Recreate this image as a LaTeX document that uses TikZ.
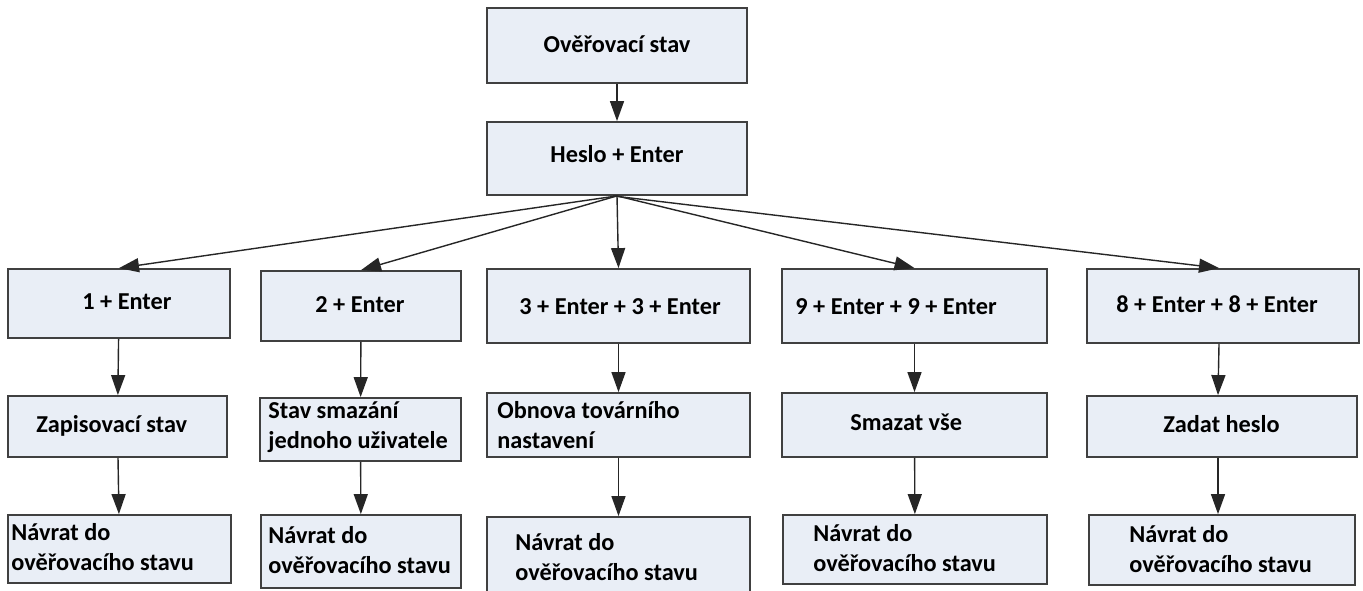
\documentclass[tikz,border=0pt]{standalone}
\usepackage{fontspec}
\setmainfont{Carlito}
\usetikzlibrary{arrows.meta}
\definecolor{boxfill}{RGB}{233,238,246}
\definecolor{boxline}{RGB}{64,64,64}
\begin{document}
\begin{tikzpicture}[x=0.5pt,y=-0.5pt,
  box/.style={draw=boxline, line width=0.9pt, fill=boxfill, rectangle, inner sep=0pt},
  txt/.style={inner sep=0pt, font=\fontsize{12.15}{15}\selectfont\bfseries, align=left},
  arr/.style={draw=black!85, line width=0.7pt, -{Triangle[length=10pt,width=7pt]}}]
\useasboundingbox (0,0) rectangle (1363,590);
% boxes
\node[box, minimum width=130pt, minimum height=37.5pt] (A) at (617,45.5) {};
\node[box, minimum width=130pt, minimum height=36.5pt] (H) at (617,158.5) {};
\node[box, minimum width=111pt, minimum height=34.5pt] (B1) at (119,303.5) {};
\node[box, minimum width=100pt, minimum height=35pt] (B2) at (361,306) {};
\node[box, minimum width=131.5pt, minimum height=37pt] (B3) at (618.5,306) {};
\node[box, minimum width=132.5pt, minimum height=37pt] (B4) at (914.5,306) {};
\node[box, minimum width=136pt, minimum height=37pt] (B5) at (1223,306) {};
\node[box, minimum width=109.5pt, minimum height=30.5pt] (C1) at (117.5,426.5) {};
\node[box, minimum width=100.5pt, minimum height=31.5pt] (C2) at (360.5,429.5) {};
\node[box, minimum width=131.5pt, minimum height=32pt] (C3) at (618.5,425) {};
\node[box, minimum width=132.5pt, minimum height=32pt] (C4) at (914.5,425) {};
\node[box, minimum width=135pt, minimum height=30.5pt] (C5) at (1222,426.5) {};
\node[box, minimum width=111.5pt, minimum height=34pt] (D1) at (119.5,549) {};
\node[box, minimum width=100pt, minimum height=36.5pt] (D2) at (361,551.5) {};
\node[box, minimum width=131.5pt, minimum height=41.5pt] (D3) at (618.5,558.5) {};
\node[box, minimum width=132pt, minimum height=34.5pt] (D4) at (915,549.5) {};
\node[box, minimum width=133pt, minimum height=35pt] (D5) at (1222,550) {};
% texts (multi-line nodes are anchored at the baseline of their last line)
\node[txt, anchor=base] (tA) at (617,52) {Ověřovací stav};
\node[txt, anchor=base] (tH) at (617,162) {Heslo + Enter};
\node[txt, anchor=base west] (tB1) at (82,309) {1 + Enter};
\node[txt, anchor=base west] (tB2) at (315,312) {2 + Enter};
\node[txt, anchor=base west] (tB3) at (519,314) {3 + Enter + 3 + Enter};
\node[txt, anchor=base west] (tB4) at (795,314) {9 + Enter + 9 + Enter};
\node[txt, anchor=base west] (tB5) at (1116,312) {8 + Enter + 8 + Enter};
\node[txt, anchor=base west] (tC1) at (36,432) {Zapisovací stav};
\node[txt, anchor=base west] (tC2) at (268,448) {Stav smazání\\jednoho uživatele};
\node[txt, anchor=base west] (tC3) at (497,448) {Obnova továrního\\nastavení};
\node[txt, anchor=base west] (tC4) at (850,430) {Smazat vše};
\node[txt, anchor=base west] (tC5) at (1163,432) {Zadat heslo};
\node[txt, anchor=base west] (tD1) at (11,570) {Návrat do\\ověřovacího stavu};
\node[txt, anchor=base west] (tD2) at (268,573) {Návrat do\\ověřovacího stavu};
\node[txt, anchor=base west] (tD3) at (515,580) {Návrat do\\ověřovacího stavu};
\node[txt, anchor=base west] (tD4) at (813,571) {Návrat do\\ověřovacího stavu};
\node[txt, anchor=base west] (tD5) at (1129,572) {Návrat do\\ověřovacího stavu};
% connectors
\draw[arr] (A) -- (H);
\draw[arr] (H.south) -- (B1.north);
\draw[arr] (H.south) -- (B2.north);
\draw[arr] (H.south) -- (B3.north);
\draw[arr] (H.south) -- (B4.north);
\draw[arr] ([xshift=-2pt]H.south) -- ([xshift=-2pt]B5.north);
\draw[arr] (B1) -- (C1);
\draw[arr] (C1) -- (D1);
\draw[arr] (B2) -- (C2);
\draw[arr] (C2) -- (D2);
\draw[arr] (B3) -- (C3);
\draw[arr] (C3) -- (D3);
\draw[arr] (B4) -- (C4);
\draw[arr] (C4) -- (D4);
\draw[arr] ([xshift=-2pt]B5.south) -- ([xshift=-2pt]C5.north);
\draw[arr] ([xshift=-2pt]C5.south) -- ([xshift=-2pt]D5.north);
\end{tikzpicture}
\end{document}
